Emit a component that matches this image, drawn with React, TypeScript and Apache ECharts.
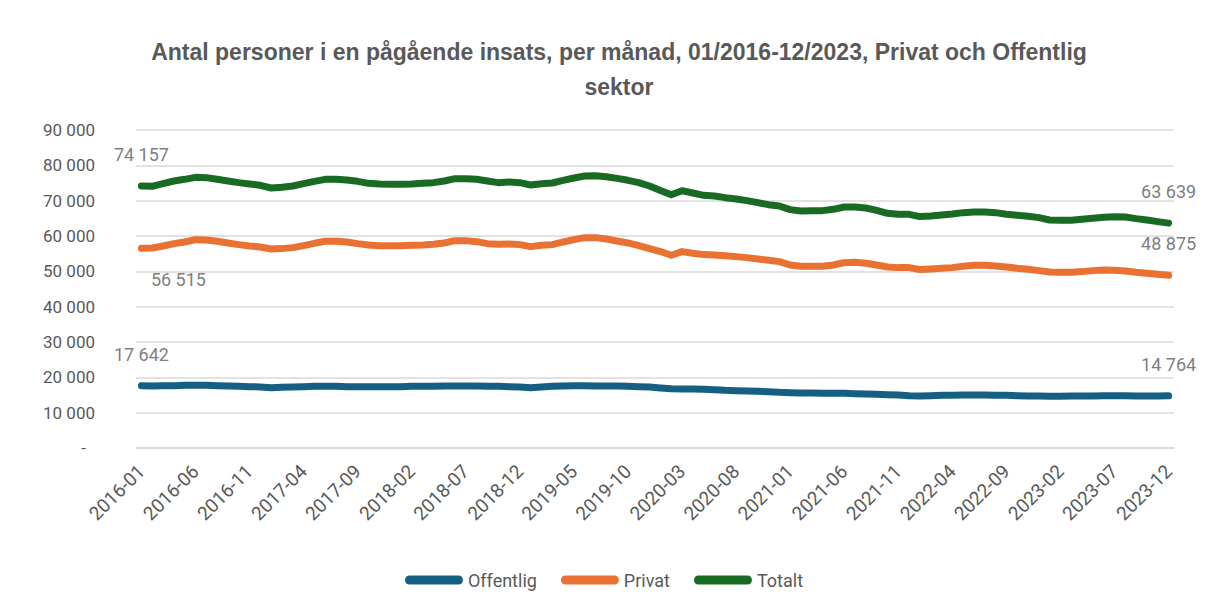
import React, { useEffect, useRef } from "react";
import * as echarts from "echarts";

const TITLE = "Antal personer i en pågående insats, per månad, 01/2016-12/2023, Privat och Offentlig\nsektor";
const SERIES_NAMES = ["Offentlig", "Privat", "Totalt"];
const COLORS = ["#156082", "#E97132", "#196B24"];
const START_YEAR = 2016;
const YEARS = 8;

const offentlig = [
  17642, 17550, 17640, 17640, 17740, 17740, 17740, 17640, 17550, 17450, 17360, 17270,
  17080, 17170, 17270, 17360, 17450, 17450, 17450, 17360, 17360, 17360, 17360, 17360,
  17360, 17450, 17450, 17450, 17550, 17550, 17550, 17550, 17450, 17450, 17360, 17270,
  17080, 17270, 17450, 17550, 17640, 17640, 17550, 17550, 17550, 17450, 17360, 17270,
  17000, 16790, 16700, 16700, 16600, 16510, 16320, 16230, 16130, 16040, 15950, 15760,
  15660, 15570, 15570, 15470, 15470, 15470, 15380, 15290, 15190, 15100, 15000, 14810,
  14720, 14810, 14910, 14910, 15000, 15000, 15000, 14910, 14910, 14810, 14720, 14720,
  14620, 14620, 14720, 14720, 14720, 14810, 14810, 14810, 14720, 14720, 14720, 14764,
];

const privat = [
  56515, 56600, 57180, 57840, 58310, 58970, 58880, 58500, 58030, 57560, 57180, 56900,
  56330, 56430, 56710, 57270, 57930, 58500, 58500, 58310, 57840, 57460, 57270, 57270,
  57270, 57370, 57460, 57650, 58030, 58690, 58690, 58400, 57840, 57650, 57740, 57560,
  56990, 57370, 57560, 58310, 58970, 59540, 59540, 59160, 58590, 58030, 57270, 56430,
  55600, 54540, 55580, 55100, 54730, 54630, 54440, 54160, 53880, 53500, 53120, 52750,
  51800, 51430, 51430, 51430, 51800, 52460, 52560, 52280, 51800, 51240, 51050, 51050,
  50530, 50670, 50860, 51050, 51430, 51710, 51710, 51520, 51240, 50860, 50580, 50200,
  49820, 49730, 49730, 49920, 50200, 50390, 50300, 50110, 49730, 49450, 49160, 48875,
];

const totalt = [
  74157, 74060, 74800, 75570, 76040, 76600, 76510, 76040, 75570, 75100, 74720, 74340,
  73590, 73780, 74150, 74810, 75470, 76040, 76040, 75850, 75470, 74900, 74720, 74620,
  74620, 74720, 74900, 75100, 75570, 76230, 76230, 76040, 75570, 75100, 75290, 75100,
  74440, 74810, 75000, 75760, 76420, 76980, 77080, 76790, 76320, 75760, 75100, 74150,
  72900, 71700, 72830, 72170, 71510, 71320, 70850, 70480, 70000, 69440, 68870, 68500,
  67460, 67080, 67180, 67180, 67550, 68210, 68210, 67930, 67270, 66420, 66140, 66140,
  65500, 65670, 65950, 66230, 66610, 66800, 66800, 66610, 66140, 65860, 65570, 65200,
  64530, 64440, 64440, 64720, 65010, 65290, 65480, 65380, 64910, 64530, 64060, 63639,
];

const Y_MIN = 0;
const Y_MAX = 90000;
const Y_STEP = 10000;

const categories: string[] = [];
for (let y = 0; y < YEARS; y++) {
  for (let m = 1; m <= 12; m++) {
    categories.push(`${START_YEAR + y}-${m < 10 ? "0" + m : m}`);
  }
}

const fmt = (v: number) => String(Math.round(v)).replace(/\B(?=(\d{3})+(?!\d))/g, " ");

const FONT = "Roboto, 'Liberation Sans', sans-serif";
const LABEL_STYLE = { fontSize: 18, color: "#7f7f7f", fontFamily: FONT };

type LabelCfg = { position: string; offset?: number[] };

function buildData(values: number[], first: LabelCfg, last: LabelCfg) {
  return values.map((v, i) => {
    if (i === 0 || i === values.length - 1) {
      const cfg = i === 0 ? first : last;
      return {
        value: v,
        label: {
          show: true,
          position: cfg.position,
          offset: cfg.offset || [0, 0],
          distance: 22,
          formatter: (p: any) => fmt(p.value),
          ...LABEL_STYLE,
        },
      };
    }
    return v;
  });
}

const ICON = "path://M4.5,0 L53.5,0 A4.5,4.5 0 0 1 53.5,9 L4.5,9 A4.5,4.5 0 0 1 4.5,0 Z";

export default function App() {
  const ref = useRef<HTMLDivElement>(null);
  useEffect(() => {
    document.body.style.margin = "0";
    if (!ref.current) return;
    const chart = echarts.init(ref.current, null, { renderer: "svg" });
    const seriesValues = [offentlig, privat, totalt];
    const labelCfgs: LabelCfg[][] = [
      [{ position: "top" }, { position: "top" }],
      [{ position: "bottom", offset: [37, 0] }, { position: "top" }],
      [{ position: "top" }, { position: "top" }],
    ];
    chart.setOption({
      animation: false,
      backgroundColor: "#ffffff",
      title: {
        text: TITLE,
        left: 614,
        top: 29,
        textAlign: "center",
        textStyle: {
          fontFamily: "'Liberation Sans Narrow', 'Liberation Sans', sans-serif",
          fontSize: 23,
          fontWeight: "bold",
          color: "#595959",
          lineHeight: 35,
          align: "center",
        },
      },
      grid: { left: 136, right: 34, top: 130, bottom: 165, containLabel: false },
      legend: {
        top: 566,
        left: "center",
        itemWidth: 58,
        itemHeight: 9,
        itemGap: 24,
        icon: ICON,
        textStyle: { fontSize: 18, color: "#595959", fontFamily: FONT },
        data: SERIES_NAMES,
      },
      xAxis: {
        type: "category",
        data: categories,
        boundaryGap: true,
        axisLine: { show: true, lineStyle: { color: "#d9d9d9", width: 1.5 } },
        axisTick: { show: false },
        axisLabel: {
          interval: 4,
          rotate: 45,
          margin: 20,
          fontSize: 19,
          color: "#595959",
          fontFamily: FONT,
        },
      },
      yAxis: {
        type: "value",
        min: Y_MIN,
        max: Y_MAX,
        interval: Y_STEP,
        axisLine: { show: false },
        axisTick: { show: false },
        splitLine: { lineStyle: { color: "#d9d9d9", width: 1.5 } },
        axisLabel: {
          margin: 41,
          fontSize: 17,
          color: "#595959",
          fontFamily: FONT,
          formatter: (v: number) => (v === 0 ? "{d|-}" : fmt(v)),
          rich: { d: { fontSize: 17, color: "#595959", fontFamily: FONT, padding: [0, 9, 0, 0] } },
        },
      },
      series: SERIES_NAMES.map((name, k) => ({
        name,
        type: "line",
        data: buildData(seriesValues[k], labelCfgs[k][0], labelCfgs[k][1]),
        symbol: "circle",
        symbolSize: 1,
        showSymbol: true,
        smooth: false,
        itemStyle: { color: COLORS[k] },
        lineStyle: { color: COLORS[k], width: 7, cap: "round", join: "round" },
        z: 2 + k,
      })),
    });
    return () => chart.dispose();
  }, []);
  return (
    <div
      ref={ref}
      style={{ position: "absolute", left: 0, top: 0, width: 1208, height: 613 }}
    />
  );
}
